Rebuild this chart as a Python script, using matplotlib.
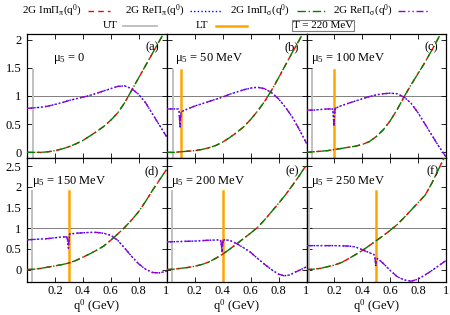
import matplotlib
matplotlib.use("Agg")
import matplotlib.pyplot as plt
from matplotlib.lines import Line2D
from matplotlib.ticker import FuncFormatter

plt.rcParams['font.family'] = ['Liberation Serif', 'DejaVu Serif']
plt.rcParams['mathtext.fontset'] = 'custom'
plt.rcParams['mathtext.rm'] = 'Liberation Serif'
plt.rcParams['mathtext.it'] = 'Liberation Serif:italic'
plt.rcParams['mathtext.bf'] = 'Liberation Serif:bold'

# ---------------- data ----------------
panel_labels = ['(a)', '(b)', '(c)', '(d)', '(e)', '(f)']
mu5_labels = ['μ$_5$ = 0', 'μ$_5$ = 50 MeV', 'μ$_5$ = 100 MeV',
              'μ$_5$ = 150 MeV', 'μ$_5$ = 200 MeV', 'μ$_5$ = 250 MeV']
ut_pos = [0.045, 0.045, 0.037, 0.035, 0.036, 0.015]
lt_pos = [None, 0.1, 0.2, 0.3, 0.4, 0.5]

x_im = [0, 0.05, 0.1, 0.15, 0.2, 0.25, 0.3, 0.35, 0.4, 0.45, 0.5,
        0.55, 0.6, 0.65, 0.7, 0.75, 0.8, 0.85, 0.9, 0.95, 1.0]
im_a = [0, 0, 0.0, 0.01, 0.03, 0.06, 0.1, 0.15, 0.21, 0.29, 0.37,
        0.46, 0.57, 0.7, 0.88, 1.1, 1.32, 1.54, 1.76, 1.98, 2.2]
im_b = [0, 0, 0.01, 0.02, 0.03, 0.05, 0.08, 0.12, 0.18, 0.26, 0.35,
        0.45, 0.58, 0.73, 0.9, 1.1, 1.32, 1.55, 1.78, 2.0, 2.23]
im_c = [0, 0.01, 0.02, 0.03, 0.05, 0.07, 0.09, 0.11, 0.14, 0.19, 0.28,
        0.4, 0.56, 0.76, 0.99, 1.2, 1.4, 1.6, 1.82, 2.05, 2.28]
im_d = [0, 0.01, 0.03, 0.06, 0.09, 0.12, 0.16, 0.22, 0.3, 0.38, 0.47,
        0.57, 0.71, 0.86, 1.02, 1.2, 1.4, 1.65, 1.92, 2.17, 2.42]
im_e = [0, 0.01, 0.03, 0.05, 0.08, 0.12, 0.18, 0.27, 0.37, 0.49, 0.62,
        0.75, 0.88, 1.02, 1.2, 1.4, 1.6, 1.81, 2.04, 2.28, 2.54]
im_f = [0, 0.01, 0.03, 0.07, 0.11, 0.17, 0.26, 0.36, 0.46, 0.58, 0.7,
        0.82, 0.95, 1.09, 1.26, 1.44, 1.62, 1.8, 2.1, 2.45, 2.8]

x_re_a = [0, 0.05, 0.1, 0.15, 0.2, 0.25, 0.3, 0.35, 0.4, 0.45, 0.5,
          0.55, 0.6, 0.65, 0.7, 0.75, 0.8, 0.85, 0.9, 0.95, 1.0]
re_a = [0.78, 0.79, 0.8, 0.82, 0.85, 0.88, 0.92, 0.95, 0.98, 1.01, 1.05,
        1.09, 1.13, 1.17, 1.18, 1.13, 1.03, 0.88, 0.68, 0.48, 0.28]

x_re_b = [0, 0.05, 0.085, 0.09, 0.097, 0.1, 0.105, 0.15, 0.2, 0.25, 0.3,
          0.35, 0.4, 0.45, 0.5, 0.55, 0.6, 0.65, 0.7, 0.75, 0.8, 0.85,
          0.9, 0.95, 1.0]
re_b = [0.77, 0.77, 0.77, 0.72, 0.45, 0.6, 0.72, 0.77, 0.82, 0.86, 0.9,
        0.94, 0.98, 1.03, 1.07, 1.11, 1.14, 1.155, 1.13, 1.06, 0.95, 0.8,
        0.62, 0.4, 0.16]

x_re_c = [0, 0.05, 0.1, 0.15, 0.185, 0.19, 0.197, 0.2, 0.205, 0.25, 0.3,
          0.35, 0.4, 0.45, 0.5, 0.55, 0.6, 0.65, 0.7, 0.75, 0.8, 0.85,
          0.9, 0.95, 1.0]
re_c = [0.75, 0.75, 0.76, 0.77, 0.77, 0.72, 0.48, 0.62, 0.78, 0.83, 0.87,
        0.91, 0.95, 0.99, 1.02, 1.04, 1.05, 1.04, 0.98, 0.87, 0.7, 0.5,
        0.3, 0.1, -0.08]

x_re_d = [0, 0.05, 0.1, 0.15, 0.2, 0.25, 0.285, 0.29, 0.297, 0.3, 0.305,
          0.35, 0.4, 0.45, 0.5, 0.55, 0.6, 0.65, 0.7, 0.75, 0.8, 0.85,
          0.9, 0.95, 1.0]
re_d = [0.72, 0.73, 0.74, 0.75, 0.77, 0.79, 0.79, 0.72, 0.52, 0.7, 0.86,
        0.88, 0.89, 0.9, 0.9, 0.88, 0.83, 0.71, 0.52, 0.32, 0.14, 0.01,
        -0.07, -0.08, -0.04]

x_re_e = [0, 0.1, 0.2, 0.3, 0.385, 0.39, 0.397, 0.4, 0.405, 0.45, 0.5,
          0.55, 0.6, 0.65, 0.7, 0.75, 0.8, 0.84, 0.88, 0.92, 0.96, 1.0]
re_e = [0.67, 0.68, 0.69, 0.71, 0.72, 0.66, 0.42, 0.58, 0.72, 0.71, 0.63,
        0.53, 0.42, 0.27, 0.13, 0.0, -0.11, -0.15, -0.13, -0.06, 0.0, 0.07]

x_re_f = [0, 0.1, 0.2, 0.3, 0.35, 0.4, 0.45, 0.485, 0.49, 0.497, 0.5,
          0.51, 0.55, 0.6, 0.65, 0.7, 0.75, 0.8, 0.85, 0.9, 0.95, 1.0]
re_f = [0.58, 0.58, 0.58, 0.57, 0.55, 0.48, 0.41, 0.36, 0.3, 0.1, 0.2,
        0.27, 0.15, -0.02, -0.17, -0.25, -0.28, -0.23, -0.13, -0.02, 0.1, 0.22]

im_list = [im_a, im_b, im_c, im_d, im_e, im_f]
re_x_list = [x_re_a, x_re_b, x_re_c, x_re_d, x_re_e, x_re_f]
re_list = [re_a, re_b, re_c, re_d, re_e, re_f]

# ---------------- styles ----------------
C_RED = '#ff0000'
C_BLUE = '#0000ff'
C_GREEN = '#008000'
C_PURPLE = '#9400d3'
C_UT = '#c0c0c0'
C_LT = '#ffa500'
LS_RED = (0, (4, 3))
LS_BLUE = (0, (1, 1.6))
LS_GREEN = (0, (6, 2, 1, 2))
LS_PURPLE = (0, (5, 2, 1, 2, 1, 2))
LW = 1.0

W, H = 450, 315
fig = plt.figure(figsize=(4.5, 3.15), dpi=100)

col_edges = [27, 166.5, 306.5, 446]
row_edges = [(34, 158), (158, 282)]
ylims = [(-0.1, 2.1), (-0.3, 2.7)]
yticks = [[0, 0.5, 1, 1.5, 2], [0, 0.5, 1, 1.5, 2, 2.5]]
vline_top = [1.47, 1.89]

fmt = FuncFormatter(lambda v, p: '%g' % v)

for i in range(6):
    r, c = divmod(i, 3)
    x0, x1 = col_edges[c], col_edges[c + 1]
    yt, yb = row_edges[r]
    ax = fig.add_axes([x0 / W, 1 - yb / H, (x1 - x0) / W, (yb - yt) / H])
    ax.set_xlim(0, 1)
    ax.set_ylim(*ylims[r])
    ax.axhline(1, color='#808080', lw=0.7, zorder=1)
    ymin = ylims[r][0]
    ax.plot([ut_pos[i], ut_pos[i]], [ymin, vline_top[r]], color=C_UT, lw=1.4, zorder=2)
    if lt_pos[i] is not None:
        ax.plot([lt_pos[i], lt_pos[i]], [ymin, vline_top[r]], color=C_LT, lw=1.8, zorder=2)
    ax.plot(x_im, im_list[i], color=C_RED, ls=LS_RED, lw=LW, zorder=3)
    ax.plot(re_x_list[i], re_list[i], color=C_BLUE, ls=LS_BLUE, lw=LW, zorder=3)
    ax.plot(x_im, im_list[i], color=C_GREEN, ls=LS_GREEN, lw=LW, zorder=4)
    ax.plot(re_x_list[i], re_list[i], color=C_PURPLE, ls=LS_PURPLE, lw=LW, zorder=4)

    ax.set_xticks([0, 0.2, 0.4, 0.6, 0.8, 1.0])
    ax.set_yticks(yticks[r])
    ax.tick_params(direction='in', length=3.5, width=0.6, top=True, right=True,
                   labelsize=9, pad=4, colors='black')
    ax.tick_params(axis='x', pad=2.5)
    if r == 1:
        ax.set_xticklabels(['', '0.2', '0.4', '0.6', '0.8', '1'])
        ax.text(0.5, -0.128, 'q$^0$ (GeV)', transform=ax.transAxes,
                ha='center', va='top', fontsize=9)
    else:
        ax.set_xticklabels([])
    if c == 0:
        ax.yaxis.set_major_formatter(fmt)
    else:
        ax.set_yticklabels([])
    for s in ax.spines.values():
        s.set_linewidth(0.9)
    ax.text(0.945, 0.895, panel_labels[i], transform=ax.transAxes,
            ha='right', va='center', fontsize=9)
    ax.text(0.3, 0.8 if r == 0 else 0.81, mu5_labels[i], transform=ax.transAxes,
            ha='center', va='center', fontsize=9)

# ---------------- legend ----------------
legend_row1 = [('2G ImΠ$_\\mathrm{\\pi}$(q$^0$)', 82, 88, 110, C_RED, LS_RED),
               ('2G ReΠ$_\\mathrm{\\pi}$(q$^0$)', 185, 190, 222, C_BLUE, LS_BLUE),
               ('2G ImΠ$_\\mathrm{\\sigma}$(q$^0$)', 290, 297, 327, C_GREEN, LS_GREEN),
               ('2G ReΠ$_\\mathrm{\\sigma}$(q$^0$)', 393, 398, 428, C_PURPLE, LS_PURPLE)]
for txt, xe, l0, l1, col, ls in legend_row1:
    y = 1 - 11 / H
    fig.text(xe / W, y, txt, ha='right', va='center', fontsize=8)
    fig.add_artist(Line2D([l0 / W, l1 / W], [y, y], color=col, ls=ls, lw=LW,
                          transform=fig.transFigure))

y2 = 1 - 25.5 / H
fig.text(118 / W, y2, 'UT', ha='right', va='center', fontsize=8)
fig.add_artist(Line2D([123 / W, 157 / W], [y2, y2], color=C_UT, lw=1.4,
                      transform=fig.transFigure))
fig.text(208 / W, y2, 'LT', ha='right', va='center', fontsize=8)
fig.add_artist(Line2D([216 / W, 247 / W], [y2, y2], color=C_LT, lw=1.8,
                      transform=fig.transFigure))
fig.text(323 / W, y2, 'T = 220 MeV', ha='center', va='center', fontsize=8,
         bbox=dict(boxstyle='square,pad=0.12', fc='white', ec='#808080', lw=0.8))

fig.savefig('out.png', dpi=100)
